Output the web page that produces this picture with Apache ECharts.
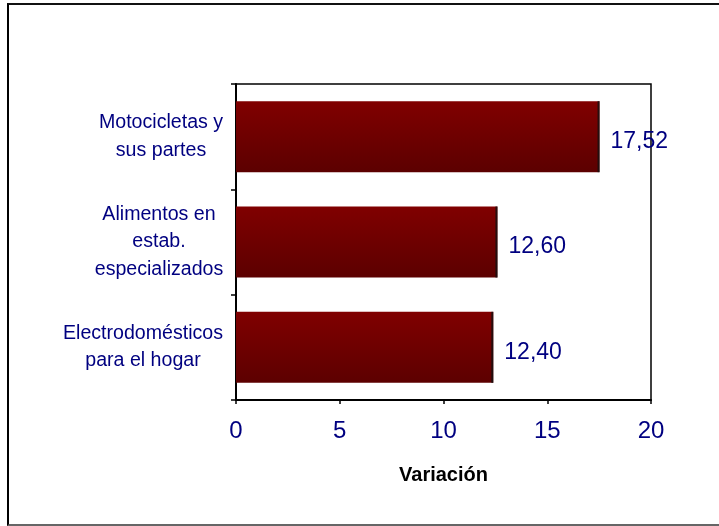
<!DOCTYPE html>
<html><head><meta charset="utf-8">
<script src="https://cdn.jsdelivr.net/npm/echarts@6/dist/echarts.min.js"></script>
<style>
body{margin:0;background:#fff}
#wrap{position:relative;width:719px;height:526px;overflow:hidden}
#chart{width:719px;height:526px}
#frame{position:absolute;left:7px;top:3px;width:760px;height:519px;border-left:2px solid #000;border-top:2px solid #111;border-bottom:2px solid #666;pointer-events:none;z-index:5}
</style></head><body>
<div id="wrap"><div id="chart"></div><div id="frame"></div></div>
<script>
const categories = ['Electrodomésticos\npara el hogar', 'Alimentos en\nestab.\nespecializados', 'Motocicletas y\nsus partes'];
const values = [12.40, 12.60, 17.52];
const xTicks = [0, 5, 10, 15, 20];
const axisTitle = 'Variación';

const FONT = '"Liberation Sans", Arial, sans-serif';
const CAT_SIZE = 19.6;
const ctx = document.createElement('canvas').getContext('2d');
ctx.font = CAT_SIZE + 'px "Liberation Sans"';
const rich = {};
categories.forEach((c, i) => {
  const w = Math.max(...c.split('\n').map(s => ctx.measureText(s).width));
  rich['c' + i] = {width: Math.ceil(w) + 1, align: 'center', fontSize: CAT_SIZE, lineHeight: 27.5, color: '#000080', fontFamily: FONT};
});

const chart = echarts.init(document.getElementById('chart'), null, {renderer: 'canvas'});
chart.setOption({
  backgroundColor: '#fff',
  animation: false,
  grid: {left: 236, right: 68, top: 84, bottom: 126, show: true, borderColor: '#000', borderWidth: 1.5, backgroundColor: 'transparent'},
  xAxis: {
    type: 'value', min: xTicks[0], max: xTicks[xTicks.length - 1], interval: 5,
    name: axisTitle, nameLocation: 'middle', nameGap: 65,
    nameTextStyle: {fontFamily: FONT, fontSize: 20, fontWeight: 'bold', color: '#000'},
    axisLine: {show: true, lineStyle: {color: '#000', width: 2}},
    axisTick: {show: true, length: 4, lineStyle: {color: '#000', width: 1.5}},
    axisLabel: {color: '#000080', fontSize: 24, fontFamily: FONT, margin: 19},
    splitLine: {show: false}
  },
  yAxis: {
    type: 'category', data: categories,
    axisLine: {show: true, lineStyle: {color: '#000', width: 2}},
    axisTick: {show: true, length: 5, lineStyle: {color: '#000', width: 1.5}},
    axisLabel: {align: 'right', margin: 12, formatter: (v, i) => v.split('\n').map(s => '{c' + i + '|' + s + '}').join('\n'), rich: rich}
  },
  series: [{
    type: 'bar', data: values, barCategoryGap: '32.6%',
    itemStyle: {color: new echarts.graphic.LinearGradient(0, 0, 0, 1, [{offset: 0, color: '#800000'}, {offset: 1, color: '#5c0000'}])},
    label: {show: true, position: 'right', distance: 11, offset: [0, 5], color: '#000080', fontSize: 23, fontFamily: FONT,
      formatter: p => p.value.toFixed(2).replace('.', ',')}
  }, {
    type: 'scatter', data: values.map((v, i) => [v, i]), symbol: 'rect', symbolSize: [2, 71], symbolOffset: [-1, 0],
    itemStyle: {color: '#111'}, silent: true, z: 3
  }]
});
</script>
</body></html>
